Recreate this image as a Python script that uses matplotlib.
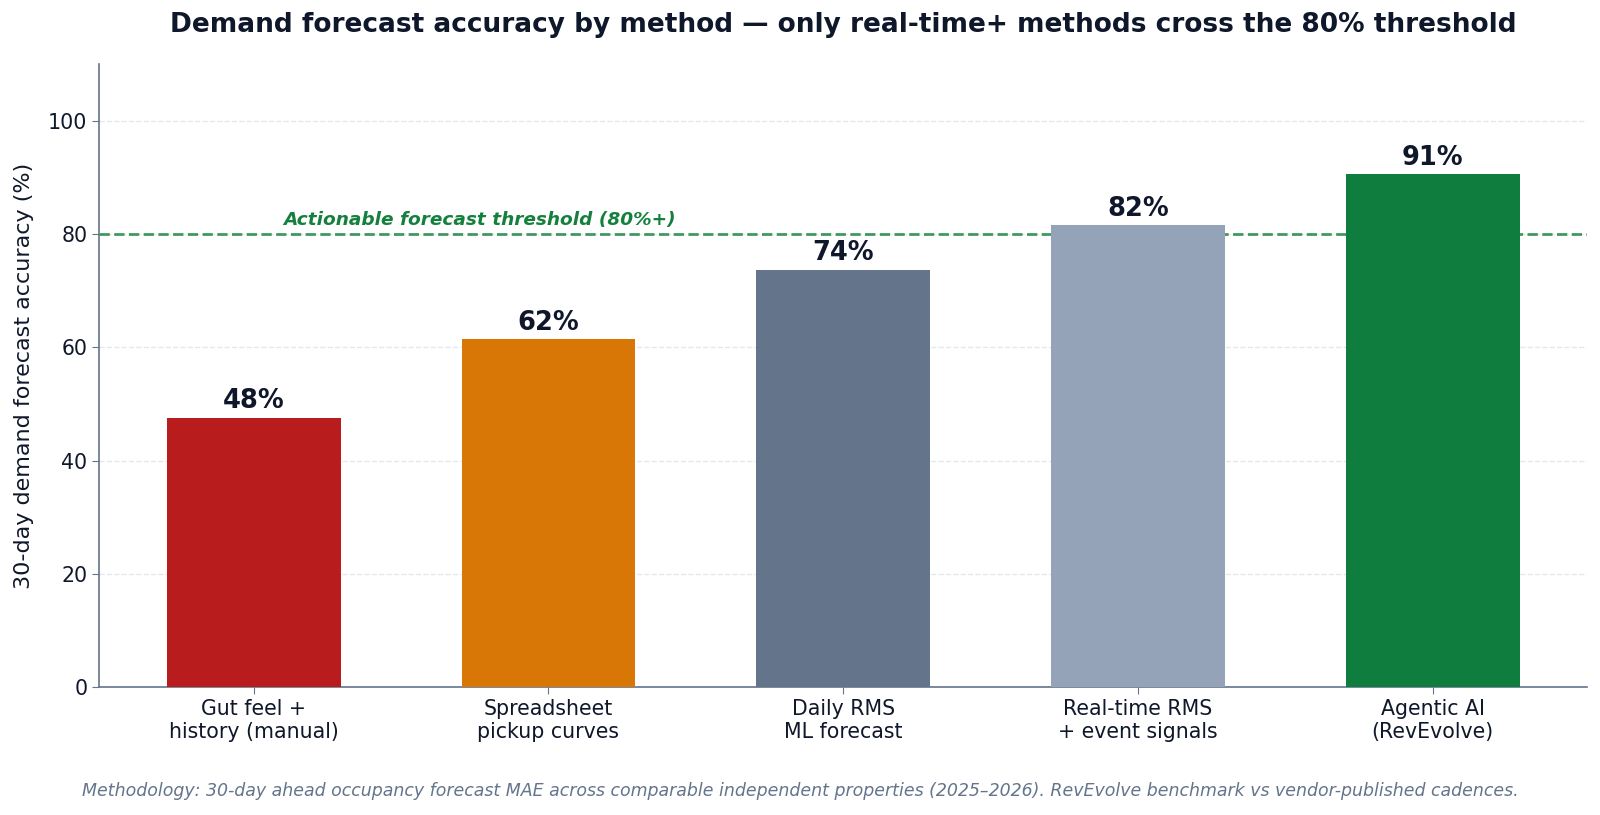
import matplotlib
matplotlib.use("Agg")
import matplotlib.pyplot as plt

# Forecast accuracy per method
methods = ["Gut feel +\nhistory (manual)", "Spreadsheet\npickup curves", "Daily RMS\nML forecast",
           "Real-time RMS\n+ event signals", "Agentic AI\n(RevEvolve)"]
accuracy = [47.6, 61.5, 73.7, 81.6, 90.6]
bar_colors = ["#b91c1c", "#d97706", "#64748b", "#94a3b8", "#0f7d3e"]
threshold = 80

dark = "#0f172a"
slate = "#64748b"

fig = plt.figure(figsize=(16, 8.15), dpi=100)
ax = fig.add_axes([0.062, 0.157, 0.93, 0.764])

x = list(range(len(methods)))
ax.bar(x, accuracy, width=0.59, color=bar_colors, zorder=3)

for xi, v in zip(x, accuracy):
    ax.text(xi, v + 0.6, f"{v:.0f}%", ha="center", va="bottom",
            fontsize=18.5, fontweight="bold", color=dark, zorder=4)

# threshold line + label
ax.axhline(threshold, color="#15803d", linestyle="--", linewidth=2, alpha=0.8, zorder=2)
ax.text(0.1, threshold + 1.0, "Actionable forecast threshold (80%+)", ha="left", va="bottom",
        fontsize=13.3, fontstyle="italic", fontweight="bold", color="#15803d")

ax.set_ylim(0, 110)
ax.set_yticks([0, 20, 40, 60, 80, 100])
ax.set_xticks(x)
ax.set_xticklabels(methods, fontsize=14.8, color=dark)
ax.tick_params(axis="y", labelsize=14.8, colors=dark)
ax.tick_params(axis="both", color=slate, length=5)
ax.set_ylabel("30-day demand forecast accuracy (%)", fontsize=16, color=dark, labelpad=10)

ax.yaxis.grid(True, linestyle="--", color="#e2e8f0", linewidth=1, zorder=0)
ax.set_axisbelow(True)
for side in ["top", "right"]:
    ax.spines[side].set_visible(False)
for side in ["left", "bottom"]:
    ax.spines[side].set_color(slate)
    ax.spines[side].set_linewidth(1.2)

# title centred over the axes
fig.text(0.062 + 0.93 / 2, 0.969,
         "Demand forecast accuracy by method \u2014 only real-time+ methods cross the 80% threshold",
         ha="center", va="center", fontsize=19, fontweight="bold", color=dark)
fig.text(0.5, 0.030, "Methodology: 30-day ahead occupancy forecast MAE across comparable independent "
         "properties (2025\u20132026). RevEvolve benchmark vs vendor-published cadences.",
         ha="center", va="center", fontsize=12.5, fontstyle="italic", color=slate)

fig.savefig("out.png", dpi=100)
